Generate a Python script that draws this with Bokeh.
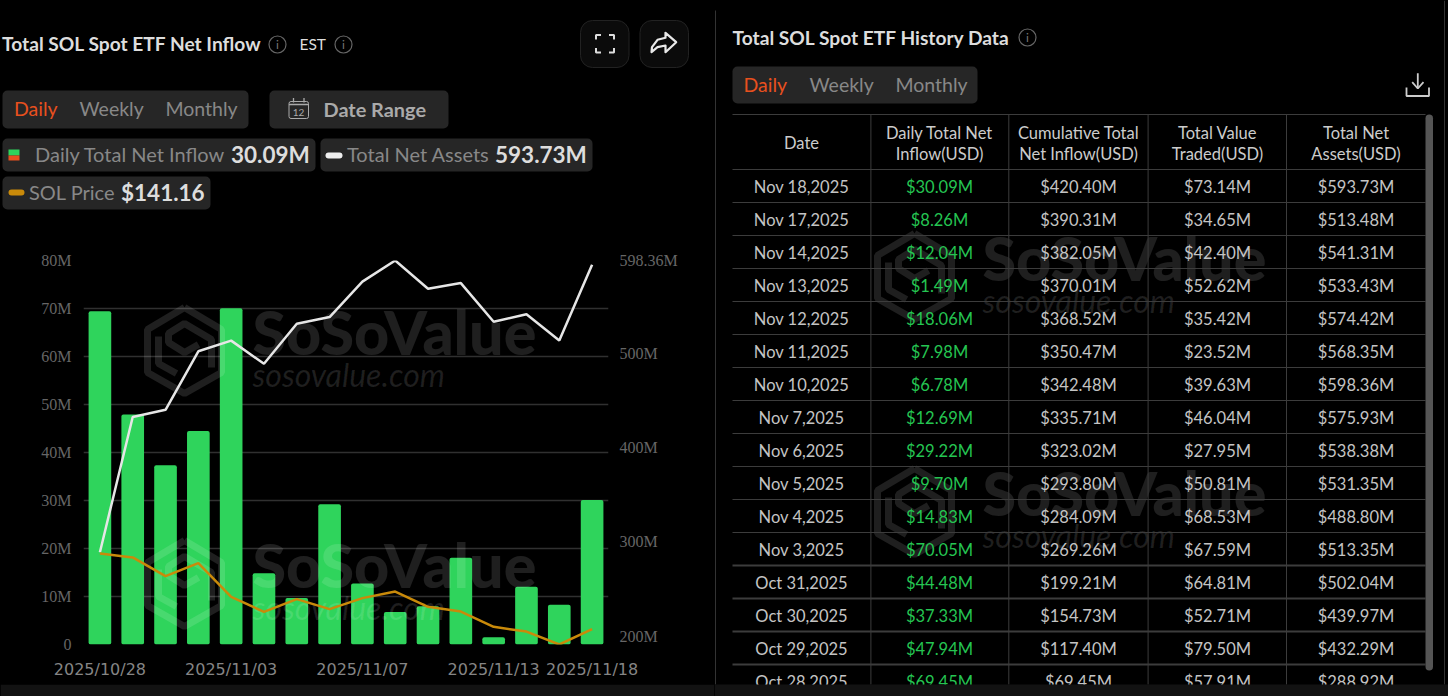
from datetime import date

import numpy as np
from bokeh.core.properties import value
from bokeh.embed import file_html
from bokeh.layouts import column, row
from bokeh.models import FixedTicker, LinearAxis, Range1d
from bokeh.plotting import figure
from bokeh.resources import INLINE

# oldest first, as on the chart
dates = [date(2025, 10, 28), date(2025, 10, 29), date(2025, 10, 30), date(2025, 10, 31),
         date(2025, 11, 3), date(2025, 11, 4), date(2025, 11, 5), date(2025, 11, 6),
         date(2025, 11, 7), date(2025, 11, 10), date(2025, 11, 11), date(2025, 11, 12),
         date(2025, 11, 13), date(2025, 11, 14), date(2025, 11, 17), date(2025, 11, 18)]
net_inflow = [69.45, 47.94, 37.33, 44.48, 70.05, 14.83, 9.70, 29.22,
              12.69, 6.78, 7.98, 18.06, 1.49, 12.04, 8.26, 30.09]
cumulative = [69.45, 117.40, 154.73, 199.21, 269.26, 284.09, 293.80, 323.02,
              335.71, 342.48, 350.47, 368.52, 370.01, 382.05, 390.31, 420.40]
value_traded = [57.91, 79.50, 52.71, 64.81, 67.59, 68.53, 50.81, 27.95,
                46.04, 39.63, 23.52, 35.42, 52.62, 42.40, 34.65, 73.14]
net_assets = [288.92, 432.29, 439.97, 502.04, 513.35, 488.80, 531.35, 538.38,
              575.93, 598.36, 568.35, 574.42, 533.43, 541.31, 513.48, 593.73]
# no axis for the price on the chart
sol_price = [199.0, 196.0, 181.7, 191.6, 165.9, 154.4, 164.1, 156.5,
             164.9, 169.9, 158.2, 154.6, 142.9, 139.3, 129.4, 141.16]

date_ticks = [0, 4, 8, 12, 15]
inflow_ticks = [0, 10, 20, 30, 40, 50, 60, 70, 80]
assets_ticks = [200, 300, 400, 500, 598.36]
table_headers = [["Date"], ["Daily Total Net", "Inflow(USD)"], ["Cumulative Total", "Net Inflow(USD)"],
                 ["Total Value", "Traded(USD)"], ["Total Net", "Assets(USD)"]]

BG = "#000000"
PILL = "#262626"
GREEN = "#2fd45c"
ORANGE = "#e8501e"
GOLD = "#c98a0a"
UI_FONT = "Lato"
WM = "#ffffff"
WM_ALPHA = 0.12


def canvas(x0, x1, y0, y1):
    # figure whose data coordinates are just the pixels of the window
    c = figure(width=x1 - x0, height=y1 - y0, x_range=Range1d(x0, x1), y_range=Range1d(y1, y0),
               output_backend="svg", toolbar_location=None, min_border=0, frame_align=False,
               background_fill_color=BG, border_fill_color=BG, outline_line_color=None)
    c.axis.visible = False
    c.grid.visible = False
    return c


def label(c, x, y, txt, size=16, color="#cccccc", bold=False, align="left", font=UI_FONT):
    c.text([x], [y - 1], text=[txt], text_font=value(font), text_font_size=f"{size}px", text_color=color,
           text_align=align, text_baseline="middle", text_font_style="bold" if bold else "normal")


def pill(c, x0, x1, y0, y1, color=PILL, radius=5, line=None):
    c.quad(left=[x0], right=[x1], top=[y0], bottom=[y1], fill_color=color, line_color=line,
           border_radius=radius)


def info(c, x, y):
    c.scatter([x], [y], size=17, marker="circle", fill_color=None, line_color="#666666", line_width=1.2)
    label(c, x, y + 1, "i", 12, "#777777", align="center")


def watermark(c, x, y, **rng):
    # x, y = left and top of the logo
    hx = np.array([37, 74, 74, 37, 0, 0, 37]) + x
    hy = np.array([0, 22, 65, 86, 65, 22, 0]) + y
    c.line(hx, hy, line_color=WM, line_alpha=WM_ALPHA, line_width=7, **rng)
    c.line(x + np.array([11, 11, 29]), y + np.array([29, 56, 66]), line_color=WM, line_alpha=WM_ALPHA,
           line_width=7, **rng)
    c.line(x + np.array([64, 64, 37, 21, 21, 37, 51]), y + np.array([60, 32, 16, 26, 35, 45, 37]),
           line_color=WM, line_alpha=WM_ALPHA, line_width=7, **rng)
    # the text glyph lands about 0.43em under the asked baseline
    c.text([x + 105], [y + 24], text=["SoSoValue"], text_font=value("Lato Black"),
           text_font_size="61px", text_color=WM, text_alpha=WM_ALPHA, text_baseline="alphabetic", **rng)
    c.text([x + 105], [y + 66.5], text=["sosovalue.com"], text_font=value("Lato"), text_font_style="italic",
           text_font_size="32px", text_color=WM, text_alpha=WM_ALPHA, text_baseline="alphabetic", **rng)


# ---- left header
head = canvas(0, 714, 0, 240)
label(head, 1.5, 44, "Total SOL Spot ETF Net Inflow", 19.2, "#dddddd", True)
info(head, 277, 44)
label(head, 299, 44, "EST", 15.5, "#dddddd")
info(head, 343, 44)

pill(head, 580, 628.5, 20, 67, "#0b0b0b", 12, "#222222")
pill(head, 639.5, 688, 20, 67, "#0b0b0b", 12, "#222222")
head.multi_line([[595.5, 595.5, 600.5], [608.5, 613.5, 613.5], [595.5, 595.5, 600.5], [608.5, 613.5, 613.5]],
                [[39, 34.5, 34.5], [34.5, 34.5, 39], [47.5, 52, 52], [52, 52, 47.5]],
                line_color="#dddddd", line_width=2)
head.patch([675.7, 665, 665, 657, 651.5, 651, 657, 665, 665, 675.7],
           [41.7, 32.3, 37.3, 39.3, 46.7, 51.7, 46.7, 45, 51.7, 41.7],
           fill_color=None, line_color="#e8e8e8", line_width=2.2, line_join="round")

pill(head, 2, 248, 90, 128)
label(head, 13.5, 109, "Daily", 19.5, ORANGE)
label(head, 79, 109, "Weekly", 19.5, "#888888")
label(head, 165, 109, "Monthly", 19.5, "#888888")

pill(head, 269, 448, 90, 128)
pill(head, 288.5, 308, 101, 118, PILL, 2, "#aaaaaa")
head.multi_line([[288.5, 308], [293, 293], [303.5, 303.5]], [[104, 104], [97.5, 102], [97.5, 102]],
                line_color="#aaaaaa", line_width=1.3)
label(head, 298, 112.5, "12", 10, "#aaaaaa", align="center")
label(head, 323, 109, "Date Range", 19.9, "#aaaaaa", True)

pill(head, 2, 315, 138, 171)
head.quad(left=[8], right=[19], top=[149], bottom=[155], fill_color=GREEN, line_color=None)
head.quad(left=[8], right=[19], top=[155], bottom=[160], fill_color=ORANGE, line_color=None)
label(head, 34.5, 154.5, "Daily Total Net Inflow", 20, "#888888")
label(head, 230.5, 154.5, f"{net_inflow[-1]:.2f}M", 22.5, "#dddddd", True)

pill(head, 320, 592, 138, 171)
pill(head, 325, 342, 152, 158, "#eeeeee", 3)
label(head, 346.5, 154.5, "Total Net Assets", 20, "#888888")
label(head, 494.5, 154.5, f"{net_assets[-1]:.2f}M", 22.5, "#dddddd", True)

pill(head, 2, 210, 176, 209)
pill(head, 8, 24, 189, 195, GOLD, 3)
label(head, 28.5, 192.5, "SOL Price", 20, "#888888")
label(head, 120.5, 192.5, f"${sol_price[-1]:.2f}", 22.5, "#dddddd", True)

# ---- chart
x = list(range(len(dates)))
p = figure(width=714, height=444, x_range=Range1d(-0.5, 15.5), y_range=Range1d(0, 80),
           output_backend="svg", toolbar_location=None, background_fill_color=BG, border_fill_color=BG,
           outline_line_color=None, min_border_left=83, min_border_right=106, min_border_top=20,
           min_border_bottom=40, y_axis_location="left", frame_align=False)
p.extra_y_ranges = {"assets": Range1d(191.0, 598.36), "price": Range1d(129.4, 423.2),
                    "px": Range1d(644, 260)}
p.extra_x_ranges = {"px": Range1d(83, 608)}
p.xgrid.visible = False
p.ygrid.grid_line_color = "#303030"
p.ygrid.grid_line_width = 1.5

p.xaxis.ticker = FixedTicker(ticks=date_ticks)
p.xaxis.major_label_overrides = {i: f"{dates[i]:%Y/%m/%d}" for i in date_ticks}
p.xaxis.major_label_text_font = "DejaVu Sans"
p.xaxis.major_label_text_font_size = "16px"
p.xaxis.major_label_text_color = "#858585"
p.xaxis.major_label_standoff = 9

p.yaxis.ticker = FixedTicker(ticks=inflow_ticks)
p.yaxis.major_label_overrides = {v: f"{v}M" if v else "0" for v in inflow_ticks}
p.yaxis.major_label_standoff = 6

right_axis = LinearAxis(y_range_name="assets", ticker=FixedTicker(ticks=assets_ticks),
                        major_label_overrides={v: f"{v}M" for v in assets_ticks},
                        major_label_standoff=5)
p.add_layout(right_axis, "right")

for ax in [p.yaxis[0], right_axis]:
    ax.major_label_text_font = "Liberation Serif"
    ax.major_label_text_font_size = "16px"
    ax.major_label_text_color = "#666666"
for ax in [p.xaxis[0], p.yaxis[0], right_axis]:
    ax.axis_line_color = None
    ax.major_tick_line_color = None
    ax.minor_tick_line_color = None

p.vbar(x=x, top=net_inflow, width=0.69, bottom=0, fill_color=GREEN, line_color=None, border_radius=2)
watermark(p, 147, 307, x_range_name="px", y_range_name="px")
watermark(p, 147, 540, x_range_name="px", y_range_name="px")
p.line(x, net_assets, line_color="#e6e6e6", line_width=2.5, y_range_name="assets")
p.line(x, sol_price, line_color=GOLD, line_width=2.5, y_range_name="price")

strip = canvas(0, 714, 684, 696)
strip.quad(left=[0], right=[714], top=[684], bottom=[696], fill_color="#121212", line_color=None)

# ---- table on the right
t = canvas(714, 1448, 0, 696)
t.line([715, 715], [10, 684], line_color="#333333", line_width=1)
t.line([1444, 1444], [0, 684], line_color="#333333", line_width=1)
label(t, 732, 38, "Total SOL Spot ETF History Data", 19.2, "#dddddd", True)
info(t, 1027, 37)
pill(t, 732, 977, 66, 103)
label(t, 743, 85, "Daily", 19.5, ORANGE)
label(t, 809, 85, "Weekly", 19.5, "#888888")
label(t, 895, 85, "Monthly", 19.5, "#888888")
t.multi_line([[1417.3, 1417.3], [1411.7, 1417.3, 1423], [1406, 1406, 1428.5, 1428.5]],
             [[72.7, 88], [81.7, 88, 81.7], [87, 95.5, 95.5, 87]], line_color="#cccccc", line_width=1.8)

watermark(t, 877, 233)
watermark(t, 877, 468)

col_centers = [801, 939, 1078, 1217, 1355.5]
col_lines = [870.4, 1008.3, 1147.6, 1286]
TABLE_LEFT, TABLE_RIGHT = 732, 1425
row_h = 33
first_line = 169
n = len(dates)
row_lines = [114, 169] + [first_line + row_h * (i + 1) for i in range(n)]
for ln in row_lines:
    thick = ln >= 565
    t.line([TABLE_LEFT, TABLE_RIGHT], [ln, ln], line_color="#3c3c3c", line_width=2.2 if thick else 1)
for cx in col_lines:
    t.line([cx, cx], [114, 684], line_color="#3c3c3c", line_width=1)
pill(t, 1425, 1432.5, 114, 670, "#555555", 4)

for cx, hdr in zip(col_centers, table_headers):
    if len(hdr) == 1:
        label(t, cx, 143, hdr[0], 16.5, "#cccccc", align="center")
    else:
        label(t, cx, 133, hdr[0], 16.5, "#cccccc", align="center")
        label(t, cx, 154, hdr[1], 16.5, "#cccccc", align="center")

for i in range(n):
    k = n - 1 - i  # newest on top
    y = 187 + row_h * i
    d = dates[k]
    label(t, col_centers[0], y, f"{d:%b} {d.day},{d.year}", 16.5, "#c4c4c4", align="center")
    label(t, col_centers[1], y, f"${net_inflow[k]:.2f}M", 16.5, "#25c552", align="center")
    label(t, col_centers[2], y, f"${cumulative[k]:.2f}M", 16.5, "#c4c4c4", align="center")
    label(t, col_centers[3], y, f"${value_traded[k]:.2f}M", 16.5, "#c4c4c4", align="center")
    label(t, col_centers[4], y, f"${net_assets[k]:.2f}M", 16.5, "#c4c4c4", align="center")

t.quad(left=[714], right=[1448], top=[684], bottom=[696], fill_color="#121212", line_color=None)

layout = row(column(head, p, strip), t)
html = file_html(layout, INLINE)
# seams between the canvases would show the white page through
html = html.replace("<head>", "<head><style>html,body{background:#000}</style>", 1)
open("out.html", "w").write(html)
